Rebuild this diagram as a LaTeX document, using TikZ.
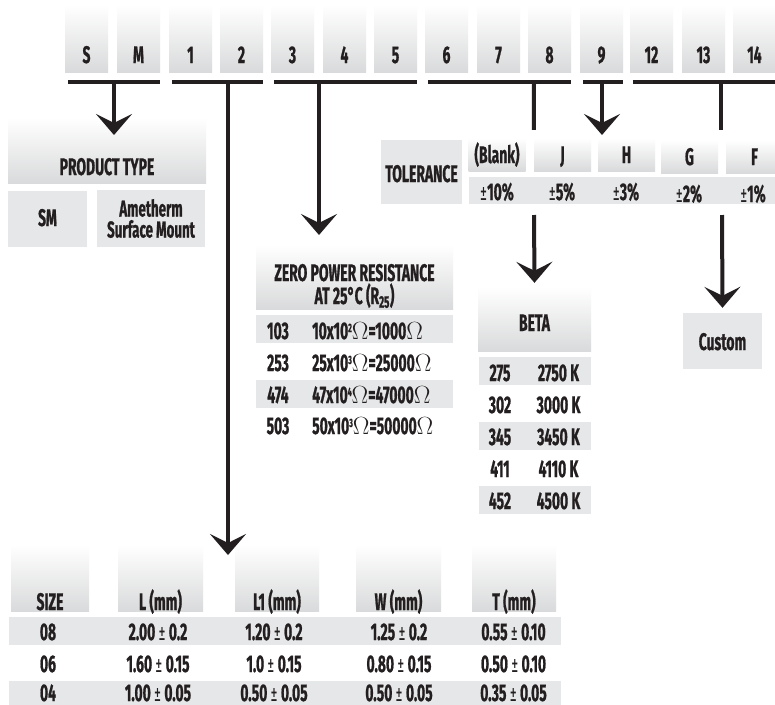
\documentclass[tikz,border=0pt]{standalone}
\usepackage{fontspec}
\setmainfont{Fira Sans}[FakeStretch=0.58, BoldFeatures={FakeBold=0.8}]
\usepackage{xcolor}
\usepackage{tikz}
\usetikzlibrary{arrows.meta}
\definecolor{ink}{HTML}{231F20}
\definecolor{boxgray}{HTML}{E6E7E8}
\definecolor{shadegray}{HTML}{D9DADB}
\newcommand{\powsup}[1]{\raisebox{7pt}{\fontsize{12}{12}\selectfont #1}}
\newcommand{\plusmin}{{\mdseries ±}}

\begin{document}
\begin{tikzpicture}[x=1pt, y=-1pt,
  font=\fontsize{24}{23}\selectfont\bfseries,
  every node/.style={text=ink, inner sep=0pt},
  digitbox/.style={top color=white, bottom color=shadegray, minimum width=43pt, minimum height=67pt, text height=52pt, text depth=3pt},
  headbox/.style={top color=white, bottom color=shadegray},
  flatbox/.style={fill=boxgray},
  bar/.style={draw=ink, line width=4pt},
  pointer/.style={bar, -{Stealth[length=21pt, width=36pt, inset=9pt]}}]
\path[fill=white, use as bounding box] (0,0) rectangle (775,704);

\foreach \lab/\x in {S/86.5, M/138.5, 1/190.5, 2/241.5, 3/292.5, 4/344.5, 5/395.5, 6/446.5, 7/498.5, 8/549.5, 9/601.5, 12/651.5, 13/703.5, 14/754.5}
\node[digitbox] (d\lab) at (\x,38.5) {\lab};
\foreach \a/\b in {S/M, 1/2, 3/5, 6/8, 9/9, 12/14}
\draw[bar] ([xshift=3pt, yshift=-10pt]d\a.south west) -- ([yshift=-10pt]d\b.south east);

\node[headbox, minimum width=198pt, minimum height=65pt, text height=52pt, text depth=3pt] (ptype) at (107,150.5) {PRODUCT TYPE};
\node[flatbox, minimum width=79pt, minimum height=56pt, text height=16pt, text depth=2pt] (ptcode) at (47.5,219) {SM};
\node[flatbox, minimum width=108pt, minimum height=57pt, align=center, font=\fontsize{23}{21}\selectfont\bfseries] (ptname) at (151,218.5) {Ametherm\\Surface Mount};

\node[flatbox, minimum width=81pt, minimum height=64pt, text height=22pt, text depth=2pt] (tol) at (421.5,172) {TOLERANCE};
\foreach \lab/\x/\y/\nm in {{(Blank)}/497/154.5/Blank, J/562.5/154.5/J, H/626.5/154.5/H, G/689.5/156.5/G, F/754.5/156.5/F}
\node[headbox, minimum width=57pt, minimum height=33pt, text height=18pt, text depth=1pt] (tol\nm) at (\x,\y) {\lab};
\node[flatbox, minimum width=314pt, minimum height=27pt] (tolrow) at (626,190.5) {};
\foreach \v/\x/\y/\nm in {10/497/200/Blank, 5/562/200/J, 3/626/200/H, 2/689/202/G, 1/753/202/F}
\node[anchor=base] (pct\nm) at (\x,\y) {\plusmin\v\%};

\node[headbox, minimum width=197pt, minimum height=64pt] (zpr) at (354.5,277) {};
\node[align=center] (zprtext) at (354.5,286) {ZERO POWER RESISTANCE\\AT 25°C (R\textsubscript{25})};
\foreach \y [count=\i] in {329,394}
\node[flatbox, minimum width=197pt, minimum height=28pt] (zshade\i) at (354.5,\y) {};
\foreach \code/\val/\y in {103/{10x10\powsup{2}$\Omega$=1000$\Omega$}/339, 253/{25x10\powsup{3}$\Omega$=25000$\Omega$}/371, 474/{47x10\powsup{4}$\Omega$=47000$\Omega$}/403, 503/{50x10\powsup{3}$\Omega$=50000$\Omega$}/434}
{\node[anchor=base] (zc\code) at (278,\y) {\code};
\node[anchor=base west] (zv\code) at (312,\y) {\val};}

\node[headbox, minimum width=113pt, minimum height=64pt, text height=26pt, text depth=2pt] (beta) at (534.5,319) {BETA};
\foreach \y [count=\i] in {371,436,500}
\node[flatbox, minimum width=112pt, minimum height=28pt] (bshade\i) at (535,\y) {};
\foreach \code/\val/\y in {275/2750/381, 302/3000/413, 345/3450/445, 411/4110/477, 452/4500/509}
{\node[anchor=base] (bc\code) at (500,\y) {\code};
\node[anchor=base] (bv\code) at (558.5,\y) {\val\ K};}

\node[flatbox, minimum width=79pt, minimum height=56pt, text height=20pt, text depth=2pt] (custom) at (722.5,341) {Custom};

\foreach \lab/\x/\w/\nm in {SIZE/50/78/size, L (mm)/160.5/85/L, L1 (mm)/277/84/Lone, W (mm)/398.5/85/W, T (mm)/514/84/T}
\node[headbox, minimum width=\w pt, minimum height=66pt, text height=64pt, text depth=0pt] (h\nm) at (\x,578) {\lab};
\foreach \y [count=\i] in {631,695}
\node[flatbox, minimum width=552pt, minimum height=28pt] (sshade\i) at (285,\y) {};
\foreach \sz/\a/\b/\c/\d/\y in {08/2.00 \plusmin\ 0.2/1.20 \plusmin\ 0.2/1.25 \plusmin\ 0.2/0.55 \plusmin\ 0.10/640, 06/1.60 \plusmin\ 0.15/1.0 \plusmin\ 0.15/0.80 \plusmin\ 0.15/0.50 \plusmin\ 0.10/672, 04/1.00 \plusmin\ 0.05/0.50 \plusmin\ 0.05/0.50 \plusmin\ 0.05/0.35 \plusmin\ 0.05/701}
{\node[anchor=base] (sz\sz) at (48,\y) {\sz};
\node[anchor=base] (l\sz) at (158,\y) {\a};
\node[anchor=base] (lone\sz) at (274,\y) {\b};
\node[anchor=base] (w\sz) at (399,\y) {\c};
\node[anchor=base] (t\sz) at (513.5,\y) {\d};}

\coordinate (ptstem) at (114,82);
\coordinate (pttip) at (114,135);
\coordinate (sizestem) at (228,82);
\coordinate (sizetip) at (228,555);
\coordinate (zprstem) at (319,82);
\coordinate (zprtip) at (319,235);
\coordinate (tolstem) at (534,82);
\coordinate (ninestem) at (602,82);
\coordinate (ninetip) at (602,135);
\coordinate (customstem) at (721,82);
\coordinate (customknee) at (721,130);
\coordinate (betafrom) at (534,215);
\coordinate (customfrom) at (722,215);
\draw[pointer] (ptstem) -- (pttip);
\draw[pointer] (sizestem) -- (sizetip);
\draw[pointer] (zprstem) -- (zprtip);
\draw[bar] (tolstem) -- ([yshift=8pt]tolJ.north west);
\draw[pointer] (ninestem) -- (ninetip);
\draw[bar] (customstem) -- (customknee);
\draw[pointer] (betafrom) -- ([yshift=4pt]beta.north);
\draw[pointer] (customfrom) -- ([yshift=5pt]custom.north);
\end{tikzpicture}
\end{document}
